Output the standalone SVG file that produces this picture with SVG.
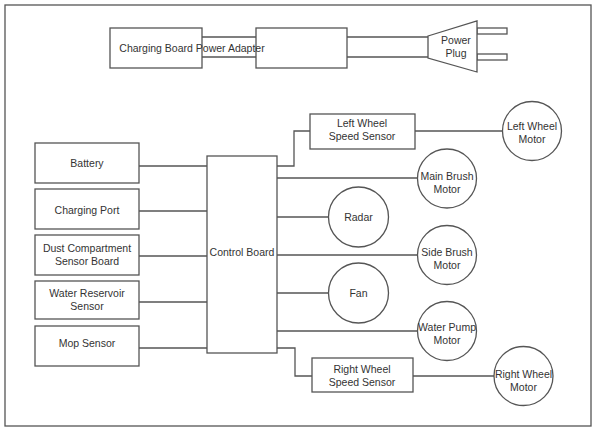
<svg xmlns="http://www.w3.org/2000/svg" width="593" height="429" viewBox="0 0 593 429">
<style>
.s{fill:#fff;stroke:#555;stroke-width:1.3}
.l{fill:none;stroke:#555;stroke-width:1.3}
text{font-family:"Liberation Sans",Arial,sans-serif;font-size:10.5px;fill:#333;text-anchor:middle}
</style>
<rect x="0" y="0" width="593" height="429" fill="#fff"/>
<rect x="5" y="5" width="586" height="421" class="l" stroke-width="1.5"/>
<g id="connectors">
<path class="l" d="M202 37H256M202 57H256M347 37H428M347 57H428"/>
<path class="l" d="M139 166H207M139 211H207M139 256H207M139 302H207M139 348H207"/>
<path class="l" d="M277 166H294V131H310M415 131H503"/>
<path class="l" d="M277 178H417M277 217H328M277 255H417M277 293H328M277 331H417"/>
<path class="l" d="M277 348H295V376H312M413 376H494"/>
</g>
<g id="charging-board"><rect class="s" x="110" y="28" width="92" height="40"/></g>
<g id="adapter"><rect class="s" x="256" y="28" width="91" height="40"/></g>
<text x="192" y="51.5">Charging Board Power Adapter</text>
<g id="power-plug">
<rect class="s" x="477" y="28" width="30" height="6"/>
<rect class="s" x="477" y="54" width="30" height="6"/>
<polygon class="s" points="428,36 477,21 477,72 428,58"/>
<text x="456" y="43.5">Power</text>
<text x="456" y="56.5">Plug</text>
</g>
<g id="battery"><rect class="s" x="35" y="143" width="104" height="40"/><text x="87" y="166.5">Battery</text></g>
<g id="charging-port"><rect class="s" x="35" y="189" width="104" height="40"/><text x="87" y="213.5">Charging Port</text></g>
<g id="dust"><rect class="s" x="35" y="235" width="104" height="40"/><text x="87" y="251.5">Dust Compartment</text><text x="87" y="264.5">Sensor Board</text></g>
<g id="water-sensor"><rect class="s" x="35" y="281" width="104" height="38"/><text x="87" y="296.5">Water Reservoir</text><text x="87" y="309.5">Sensor</text></g>
<g id="mop"><rect class="s" x="35" y="326" width="104" height="40"/><text x="87" y="346.5">Mop Sensor</text></g>
<g id="control-board"><rect class="s" x="207" y="156" width="70" height="197"/><text x="242" y="255.5">Control Board</text></g>
<g id="lw-sensor"><rect class="s" x="310" y="114" width="105" height="35"/><text x="362" y="126.5">Left Wheel</text><text x="362" y="139.5">Speed Sensor</text></g>
<g id="rw-sensor"><rect class="s" x="312" y="358" width="101" height="34"/><text x="362" y="372.5">Right Wheel</text><text x="362" y="385.5">Speed Sensor</text></g>
<g id="lw-motor"><circle class="s" cx="532" cy="131" r="29.5"/><text x="532" y="129.5">Left Wheel</text><text x="532" y="142.5">Motor</text></g>
<g id="main-brush"><circle class="s" cx="447" cy="178.5" r="29.5"/><text x="447" y="179.5">Main Brush</text><text x="447" y="192.5">Motor</text></g>
<g id="radar"><circle class="s" cx="358.5" cy="217" r="30"/><text x="358.5" y="220.5">Radar</text></g>
<g id="side-brush"><circle class="s" cx="447" cy="255" r="29.5"/><text x="447" y="256">Side Brush</text><text x="447" y="269">Motor</text></g>
<g id="fan"><circle class="s" cx="358.5" cy="293" r="30"/><text x="358.5" y="296.5">Fan</text></g>
<g id="water-pump"><circle class="s" cx="447" cy="331" r="29.5"/><text x="447" y="330.5">Water Pump</text><text x="447" y="343.5">Motor</text></g>
<g id="rw-motor"><circle class="s" cx="523.5" cy="376" r="29.5"/><text x="523.5" y="377.5">Right Wheel</text><text x="523.5" y="390.5">Motor</text></g>
</svg>
